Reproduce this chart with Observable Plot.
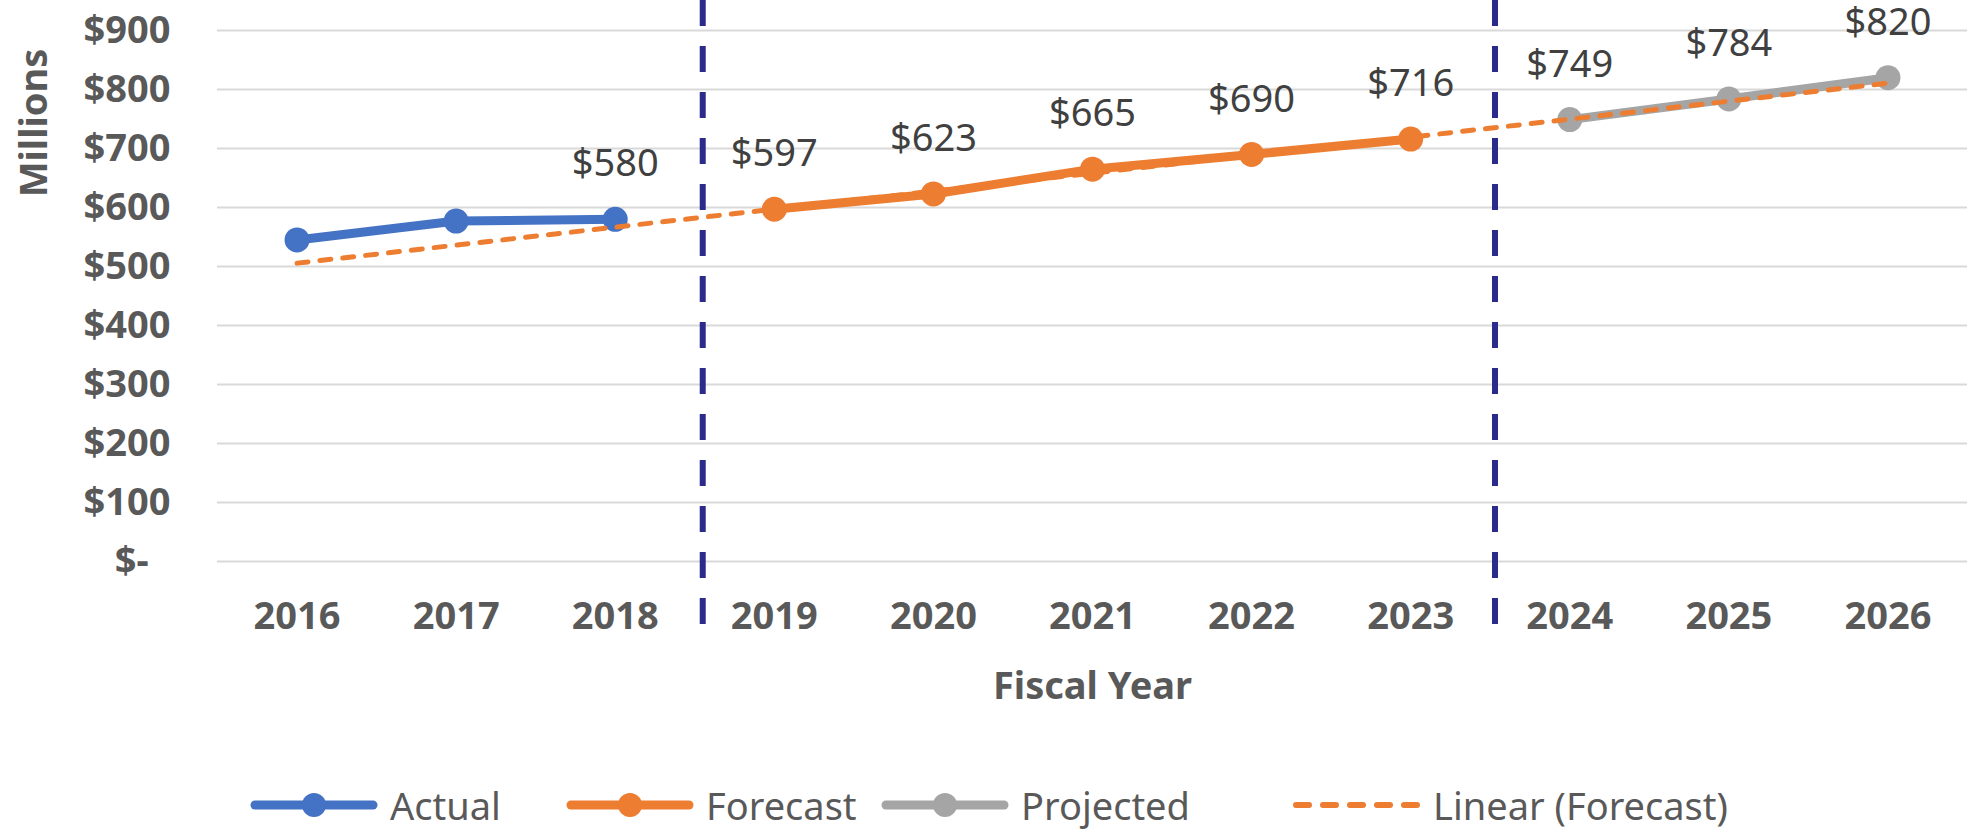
<!DOCTYPE html>
<html><head><meta charset="utf-8">
<script src="https://cdn.jsdelivr.net/npm/d3@7"></script>
<script src="https://cdn.jsdelivr.net/npm/@observablehq/plot@0.6"></script>
<style>
html,body{margin:0;padding:0;background:#fff;}
#wrap{position:relative;width:1974px;height:833px;overflow:hidden;font-family:"Noto Sans",sans-serif;}
#chart{position:relative;}
#ytitle{position:absolute;left:31.5px;top:123px;transform:translate(-50%,-50%) rotate(-90deg);font-size:38px;font-weight:bold;color:#595959;line-height:1;white-space:nowrap;}
#legend{position:relative;width:1974px;height:63px;}
.item{position:absolute;top:13px;height:44px;display:flex;align-items:center;font-size:38px;line-height:1;color:#595959;white-space:nowrap;}
.item svg{margin-right:12px;flex:none;}
</style></head><body><div id="wrap"><div id="chart"></div><div id="ytitle"></div><div id="legend"></div></div>
<script>
// ---- data ----
const years = [2016, 2017, 2018, 2019, 2020, 2021, 2022, 2023, 2024, 2025, 2026];
const actualYears = [2016, 2017, 2018];
const actualValues = [545, 577, 580];
const forecastYears = [2019, 2020, 2021, 2022, 2023];
const forecastValues = [597, 623, 665, 690, 716];
const projectedYears = [2024, 2025, 2026];
const projectedValues = [749, 784, 820];
const labelYears = [2018, 2019, 2020, 2021, 2022, 2023, 2024, 2025, 2026];
const yTicks = [0, 100, 200, 300, 400, 500, 600, 700, 800, 900];
const seriesNames = ["Actual", "Forecast", "Projected"];
const seriesColors = ["#4472C4", "#ED7D31", "#A5A5A5"];
const trendName = "Linear (Forecast)";
const xTitle = "Fiscal Year";
const yTitle = "Millions";
const dividers = [2018.55, 2023.53];

// ---- build rows ----
const rows = [
  ...actualYears.map((y, i) => ({year: y, value: actualValues[i], series: "Actual"})),
  ...forecastYears.map((y, i) => ({year: y, value: forecastValues[i], series: "Forecast"})),
  ...projectedYears.map((y, i) => ({year: y, value: projectedValues[i], series: "Projected"}))
];
const labeled = rows.filter(d => labelYears.includes(d.year));

// linear trend fitted to the forecast series, extended over all years
const xm = d3.mean(forecastYears), ym = d3.mean(forecastValues);
const slope = d3.sum(forecastYears.map((x, i) => (x - xm) * (forecastValues[i] - ym))) /
              d3.sum(forecastYears.map(x => (x - xm) ** 2));
const trend = [years[0], years[years.length - 1]].map(x => ({year: x, value: ym + slope * (x - xm)}));

const fmt = d => d === 0 ? "$-\u2007" : "$" + d;
const gray = "#595959";

const chart = Plot.plot({
  width: 1974,
  height: 770,
  marginTop: 30,
  marginBottom: 209,
  marginLeft: 217,
  marginRight: 7,
  style: {fontFamily: '"Noto Sans", sans-serif', background: "#fff", overflow: "visible"},
  x: {type: "linear", domain: [2015.5, 2026.5], axis: null},
  y: {domain: [0, 900], axis: null},
  color: {domain: seriesNames, range: seriesColors},
  marks: [
    Plot.ruleY(yTicks, {y: d => d, stroke: "#d9d9d9", strokeWidth: 2}),
    Plot.axisY(yTicks, {tickSize: 0, tickPadding: 47, tickFormat: fmt, fontSize: 38, fontWeight: "bold", color: gray, label: null}),
    Plot.axisX(years, {tickSize: 0, tickPadding: 41, tickFormat: d => String(d), fontSize: 38, fontWeight: "bold", color: gray, label: null}),
    Plot.ruleX(dividers, {x: d => d, stroke: "#2B2B8C", strokeWidth: 6, strokeDasharray: "26,20", insetTop: -30, insetBottom: -63}),
    Plot.line(rows, {x: "year", y: "value", z: "series", stroke: "series", strokeWidth: 9, strokeLinejoin: "round"}),
    Plot.dot(rows, {x: "year", y: "value", fill: "series", r: 12.5}),
    Plot.line(trend, {x: "year", y: "value", stroke: "#ED7D31", strokeWidth: 5, strokeDasharray: "11,12", strokeLinecap: "round"}),
    Plot.text(labeled, {x: "year", y: "value", text: d => "$" + d.value, dy: -55, fontSize: 38, fill: "#404040"}),
    Plot.text([xTitle], {text: d => d, frameAnchor: "bottom", lineAnchor: "middle", dy: 125, fontSize: 38, fontWeight: "bold", fill: gray})
  ]
});
document.getElementById("chart").appendChild(chart);
document.getElementById("ytitle").textContent = yTitle;

// ---- legend (HTML, below the SVG) ----
const legendItems = [
  {name: "Actual", color: seriesColors[0], kind: "marker", left: 250},
  {name: "Forecast", color: seriesColors[1], kind: "marker", left: 566},
  {name: "Projected", color: seriesColors[2], kind: "marker", left: 881},
  {name: trendName, color: seriesColors[1], kind: "dash", left: 1293}
];
const legend = d3.select("#legend");
for (const it of legendItems) {
  const div = legend.append("div").attr("class", "item").style("left", it.left + "px");
  const svg = div.append("svg").attr("width", 128).attr("height", 30);
  if (it.kind === "marker") {
    svg.append("line").attr("x1", 5).attr("x2", 123).attr("y1", 15).attr("y2", 15)
      .attr("stroke", it.color).attr("stroke-width", 9).attr("stroke-linecap", "round");
    svg.append("circle").attr("cx", 64).attr("cy", 15).attr("r", 12).attr("fill", it.color);
  } else {
    svg.append("line").attr("x1", 3).attr("x2", 125).attr("y1", 15).attr("y2", 15)
      .attr("stroke", it.color).attr("stroke-width", 6).attr("stroke-dasharray", "13,14").attr("stroke-linecap", "round");
  }
  div.append("span").text(it.name);
}
</script></body></html>
